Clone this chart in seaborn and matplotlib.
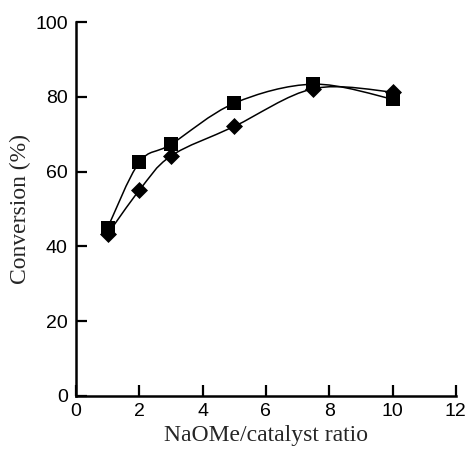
import matplotlib
matplotlib.use("Agg")
import matplotlib.pyplot as plt
from matplotlib.path import Path
from matplotlib.patches import PathPatch
import numpy as np
import pandas as pd
import seaborn as sns

# ─── Data ─────────────────────────────────────────────────────────────────────
ratio = [1, 2, 3, 5, 7.5, 10]
conv_square = [45, 62.5, 67.3, 78.3, 83.4, 79.4]
conv_diamond = [43.3, 55, 64.2, 72.1, 82.2, 81.3]
x_ticks = [0, 2, 4, 6, 8, 10, 12]
y_ticks = [0, 20, 40, 60, 80, 100]

SANS = "Liberation Sans"
SERIF = "Liberation Serif"


def smooth_path(xs, ys):
    """Catmull-Rom curve through the points, as cubic Bezier segments."""
    pts = np.column_stack([xs, ys]).astype(float)
    verts = [pts[0]]
    codes = [Path.MOVETO]
    n = len(pts)
    for i in range(n - 1):
        p0 = pts[i - 1] if i > 0 else pts[i]
        p1, p2 = pts[i], pts[i + 1]
        p3 = pts[i + 2] if i + 2 < n else pts[i + 1]
        c1 = p1 + (p2 - p0) / 6
        c2 = p2 - (p3 - p1) / 6
        verts += [c1, c2, p2]
        codes += [Path.CURVE4] * 3
    return Path(verts, codes)


sns.set_style("ticks")
fig, ax = plt.subplots(figsize=(4.68, 4.51), dpi=100)
fig.subplots_adjust(left=0.1624, right=0.974, bottom=0.122, top=0.951)

for ys in (conv_square, conv_diamond):
    ax.add_patch(PathPatch(smooth_path(ratio, ys), facecolor="none",
                           edgecolor="black", linewidth=1.1, zorder=2))

df = pd.DataFrame({
    "ratio": ratio * 2,
    "conv": conv_square + conv_diamond,
    "series": ["s"] * len(ratio) + ["d"] * len(ratio),
})
sns.scatterplot(data=df[df.series == "s"], x="ratio", y="conv", marker="s",
                s=95, color="black", edgecolor="black", linewidth=0, ax=ax,
                zorder=3, legend=False)
sns.scatterplot(data=df[df.series == "d"], x="ratio", y="conv", marker="D",
                s=75, color="black", edgecolor="black", linewidth=0, ax=ax,
                zorder=3, legend=False)

ax.set_xlim(0, 12)
ax.set_ylim(0, 100)
ax.set_xticks(x_ticks)
ax.set_yticks(y_ticks)
ax.set_xticklabels([str(t) for t in x_ticks], family=SANS, fontsize=14)
ax.set_yticklabels([str(t) for t in y_ticks], family=SANS, fontsize=14)
ax.tick_params(axis="x", direction="in", length=8, width=1.6, colors="black", pad=5)
ax.tick_params(axis="y", direction="in", length=8, width=1.6, colors="black", pad=6)
ax.set_xlabel("NaOMe/catalyst ratio", family=SERIF, fontsize=17, labelpad=4)
ax.set_ylabel("Conversion (%)", family=SERIF, fontsize=17, labelpad=3)
sns.despine(ax=ax)
for sp in ("left", "bottom"):
    ax.spines[sp].set_linewidth(1.8)
    ax.spines[sp].set_color("black")

fig.savefig("out.png", dpi=100)
